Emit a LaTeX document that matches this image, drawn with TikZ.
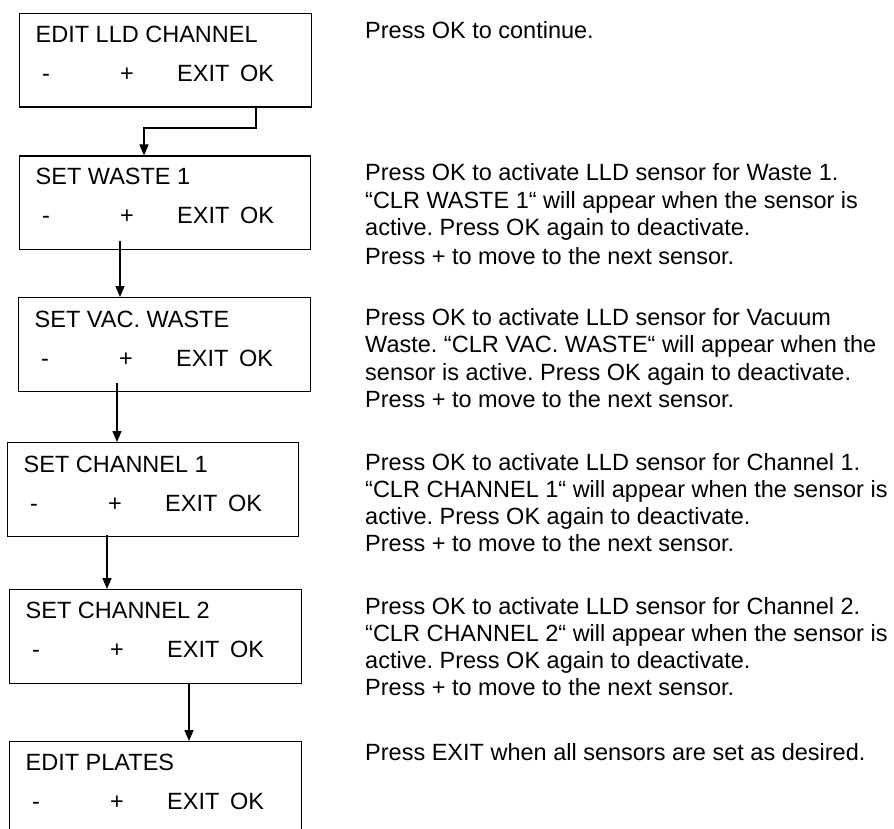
\documentclass[tikz,border=0pt]{standalone}
\usepackage{fontspec}
\setmainfont{Liberation Sans}
\usetikzlibrary{arrows.meta,calc}
\frenchspacing
\begin{document}
\begin{tikzpicture}[x=1pt,y=-1pt,
  panel/.style={draw, line width=1.3pt, rectangle, anchor=north west, inner sep=0pt, minimum height=93.5pt},
  lbl/.style={anchor=base west, inner sep=0pt, font=\fontsize{23.5}{27.7}\selectfont},
  conn/.style={line width=1.5pt, -{Triangle[length=11pt,width=9pt]}}]
\clip (0,0) rectangle (894,829);
\fill[white] (0,0) rectangle (894,829);

% ---------- panels ----------
\node[panel, minimum width=292pt] (b1) at (19,13) {};
\node[panel, minimum width=291pt] (b2) at (19,155.5) {};
\node[panel, minimum width=292pt] (b3) at (18,297) {};
\node[panel, minimum width=291pt] (b4) at (7,442) {};
\node[panel, minimum width=292pt] (b5) at (9,589) {};
\node[panel, minimum width=292pt] (b6) at (9,741) {};

% ---------- panel texts ----------
\node[lbl] (t1) at (35.5,43) {EDIT LLD CHANNEL};
\node[lbl] (m1) at (42,82) {-};
\node[lbl] (p1) at (120,82) {+};
\node[lbl] (e1) at (177,82) {EXIT};
\node[lbl] (o1) at (240,82) {OK};

\node[lbl] (t2) at (35.5,185) {SET WASTE 1};
\node[lbl] (m2) at (42,224) {-};
\node[lbl] (p2) at (120,224) {+};
\node[lbl] (e2) at (177,224) {EXIT};
\node[lbl] (o2) at (240,224) {OK};

\node[lbl] (t3) at (34.5,327) {SET VAC. WASTE};
\node[lbl] (m3) at (41,366) {-};
\node[lbl] (p3) at (119,366) {+};
\node[lbl] (e3) at (176,366) {EXIT};
\node[lbl] (o3) at (239,366) {OK};

\node[lbl] (t4) at (23.5,472) {SET CHANNEL 1};
\node[lbl] (m4) at (30,511) {-};
\node[lbl] (p4) at (108,511) {+};
\node[lbl] (e4) at (165,511) {EXIT};
\node[lbl] (o4) at (228,511) {OK};

\node[lbl] (t5) at (25.5,618) {SET CHANNEL 2};
\node[lbl] (m5) at (32,657) {-};
\node[lbl] (p5) at (110,657) {+};
\node[lbl] (e5) at (167,657) {EXIT};
\node[lbl] (o5) at (230,657) {OK};

\node[lbl] (t6) at (25.5,770) {EDIT PLATES};
\node[lbl] (m6) at (32,809) {-};
\node[lbl] (p6) at (110,809) {+};
\node[lbl] (e6) at (167,809) {EXIT};
\node[lbl] (o6) at (230,809) {OK};

% ---------- connectors ----------
\draw[conn] (b1.south -| 256,0) |- (144,128) -- (b2.north -| 144,0);
\draw[conn] ($(b2.south -| 120,0)+(0,-9)$) -- (b3.north -| 120,0);
\draw[conn] ($(b3.south -| 117,0)+(0,-9)$) -- (b4.north -| 117,0);
\draw[conn] ($(b4.south -| 107,0)+(0,-2)$) -- (b5.north -| 107,0);
\draw[conn] (b5.south -| 189,0) -- (b6.north -| 189,0);

% ---------- descriptions ----------
\node[lbl] (d1) at (365,39) {Press OK to continue.};

\node[lbl] (d2a) at (365,181) {Press OK to activate LLD sensor for Waste 1.};
\node[lbl] (d2b) at (365,209) {“CLR WASTE 1“ will appear when the sensor is};
\node[lbl] (d2c) at (365,236) {active. Press OK again to deactivate.};
\node[lbl] (d2d) at (365,264) {Press + to move to the next sensor.};

\node[lbl] (d3a) at (365,325) {Press OK to activate LLD sensor for Vacuum};
\node[lbl] (d3b) at (365,352) {Waste. “CLR VAC. WASTE“ will appear when the};
\node[lbl] (d3c) at (365,380) {sensor is active. Press OK again to deactivate.};
\node[lbl] (d3d) at (365,407) {Press + to move to the next sensor.};

\node[lbl] (d4a) at (365,470) {Press OK to activate LLD sensor for Channel 1.};
\node[lbl] (d4b) at (365,497) {“CLR CHANNEL 1“ will appear when the sensor is};
\node[lbl] (d4c) at (365,524) {active. Press OK again to deactivate.};
\node[lbl] (d4d) at (365,551) {Press + to move to the next sensor.};

\node[lbl] (d5a) at (365,614) {Press OK to activate LLD sensor for Channel 2.};
\node[lbl] (d5b) at (365,641) {“CLR CHANNEL 2“ will appear when the sensor is};
\node[lbl] (d5c) at (365,668) {active. Press OK again to deactivate.};
\node[lbl] (d5d) at (365,695) {Press + to move to the next sensor.};

\node[lbl] (d6) at (365,760) {Press EXIT when all sensors are set as desired.};
\end{tikzpicture}
\end{document}
